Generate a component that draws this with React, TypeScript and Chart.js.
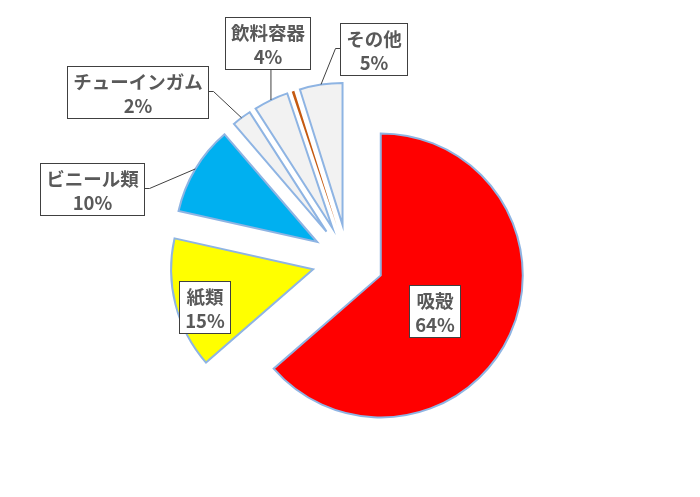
import React, { useEffect, useRef } from "react";
import { Chart, registerables } from "chart.js";

Chart.register(...registerables);

// ---- data ----
const categories = ["吸殻", "紙類", "ビニール類", "チューインガム", "飲料容器", "", "その他"];
const shares = [63.6, 14.9, 10.2, 2.2, 3.95, 0.3, 4.85];
const sliceColors = ["#FF0000", "#FFFF00", "#00B0F0", "#F2F2F2", "#F2F2F2", "#C55A11", "#F2F2F2"];
const sliceBorderWidths = [2, 2, 2, 2, 2, 0, 2];
const hasLeader = [false, false, true, true, true, false, true];

// label box centres relative to pie centre (layout, not data)
const labelOffsets: ([number, number] | null)[] = [
  [86, 50],
  [-144, 46],
  [-256, -72],
  [-211, -169],
  [-80, -218],
  null,
  [25, -212],
];

const EXPLODE = 36;
const RADIUS = 142;
const FONT = 'bold 18.5px "Noto Sans CJK JP", "Noto Sans", sans-serif';

const explodePlugin = {
  id: "explodeSlices",
  beforeDatasetDraw(chart: any, args: any) {
    const ctx = chart.ctx;
    const meta = args.meta;
    meta.data.forEach((arc: any) => {
      const { startAngle, endAngle } = arc.getProps(["startAngle", "endAngle"], true);
      const mid = (startAngle + endAngle) / 2;
      ctx.save();
      ctx.translate(Math.cos(mid) * EXPLODE, Math.sin(mid) * EXPLODE);
      arc.draw(ctx, chart.chartArea);
      ctx.restore();
    });
    return false;
  },
};

const labelPlugin = {
  id: "boxLabels",
  afterDatasetsDraw(chart: any) {
    const ctx = chart.ctx;
    const meta = chart.getDatasetMeta(0);
    ctx.save();
    ctx.font = FONT;
    meta.data.forEach((arc: any, i: number) => {
      const off = labelOffsets[i];
      if (!off || !categories[i]) return;
      const { x, y, startAngle, endAngle, outerRadius } = arc.getProps(
        ["x", "y", "startAngle", "endAngle", "outerRadius"],
        true
      );
      const mid = (startAngle + endAngle) / 2;
      const lines = [categories[i], Math.round(shares[i]) + "%"];
      const w = Math.max(...lines.map((l) => ctx.measureText(l).width)) + 11;
      const h = 52;
      const cx = x + off[0];
      const cy = y + off[1];
      const left = Math.round(cx - w / 2) + 0.5;
      const top = Math.round(cy - h / 2) + 0.5;
      const right = left + Math.round(w);
      const bottom = top + h;

      if (hasLeader[i]) {
        const r = outerRadius + EXPLODE;
        const tx = x + Math.cos(mid) * r;
        const ty = y + Math.sin(mid) * r;
        ctx.strokeStyle = "#404040";
        ctx.lineWidth = 1;
        ctx.beginPath();
        if (ty > bottom && tx >= left && tx <= right) {
          ctx.moveTo(tx, bottom);
          ctx.lineTo(tx, ty);
        } else if (tx > right) {
          ctx.moveTo(right, cy);
          ctx.lineTo(right + 5, cy);
          ctx.lineTo(tx, ty);
        } else {
          ctx.moveTo(left, cy);
          ctx.lineTo(left - 5, cy);
          ctx.lineTo(tx, ty);
        }
        ctx.stroke();
      }

      ctx.fillStyle = "#FFFFFF";
      ctx.fillRect(left, top, right - left, h);
      ctx.strokeStyle = "#404040";
      ctx.lineWidth = 1;
      ctx.strokeRect(left, top, right - left, h);

      ctx.fillStyle = "#595959";
      ctx.textAlign = "center";
      ctx.textBaseline = "middle";
      ctx.fillText(lines[0], (left + right) / 2, top + 15);
      ctx.fillText(lines[1], (left + right) / 2, top + 39);
    });
    ctx.restore();
  },
};

export default function App() {
  const ref = useRef<HTMLCanvasElement | null>(null);
  useEffect(() => {
    if (!ref.current) return;
    const chart = new Chart(ref.current, {
      type: "pie",
      data: {
        labels: categories,
        datasets: [
          {
            data: shares,
            backgroundColor: sliceColors,
            borderColor: sliceColors.map((c, i) => (i === 5 ? c : "#8EB4E3")),
            borderWidth: sliceBorderWidths,
            borderJoinStyle: "miter",
          } as any,
        ],
      },
      options: {
        responsive: false,
        animation: false,
        radius: RADIUS,
        layout: { padding: { left: 0, right: 4, top: 24, bottom: 0 } },
        plugins: {
          legend: { display: false },
          tooltip: { enabled: false },
        },
        events: [],
      } as any,
      plugins: [explodePlugin, labelPlugin],
    });
    return () => chart.destroy();
  }, []);
  return (
    <div style={{ position: "absolute", left: 0, top: 0, width: 700, height: 497, background: "#fff" }}>
      <canvas ref={ref} width={700} height={497} style={{ width: 700, height: 497 }} />
    </div>
  );
}
